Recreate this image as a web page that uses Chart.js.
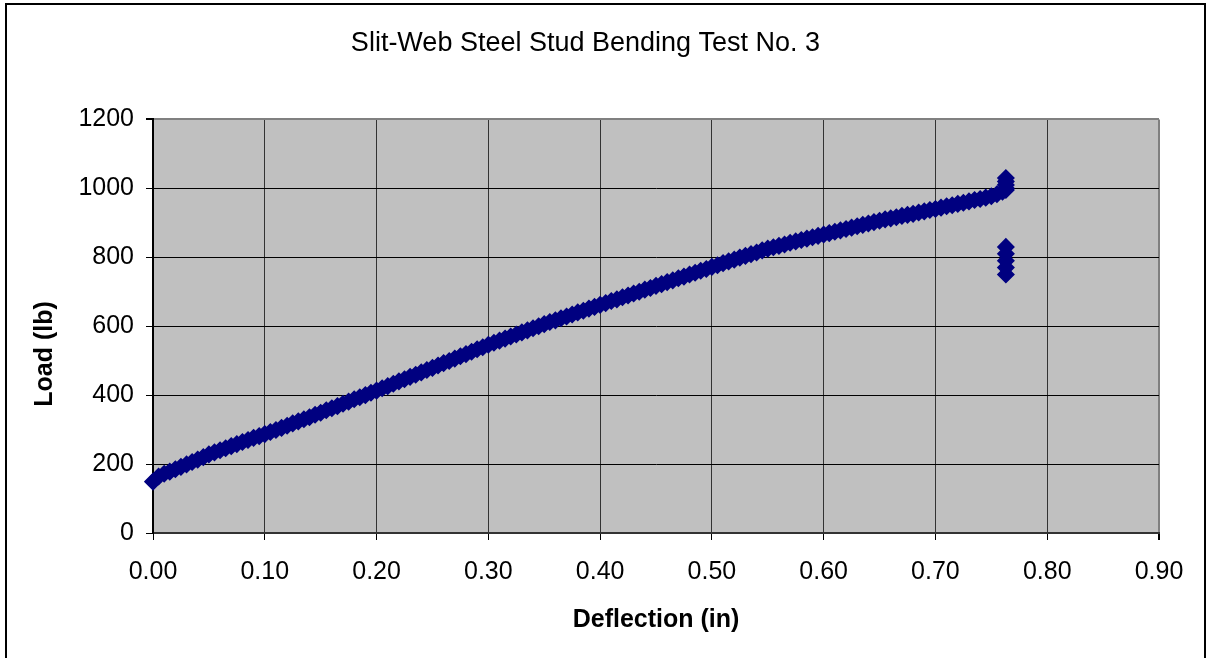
<!DOCTYPE html>
<html>
<head>
<meta charset="utf-8">
<title>Slit-Web Steel Stud Bending Test No. 3</title>
<script src="https://cdn.jsdelivr.net/npm/chart.js@4/dist/chart.umd.min.js"></script>
<style>
  html, body { margin: 0; padding: 0; background: #fff; }
  canvas { display: block; }
</style>
</head>
<body>
<canvas id="chartCanvas" width="1209" height="658"></canvas>
<script>
// --- data ---
const chartTitle = "Slit-Web Steel Stud Bending Test No. 3";
const xTitle = "Deflection (in)";
const yTitle = "Load (lb)";

// main loading curve: deflection (in) / load (lb)
const deflection = [
  0.000, 0.005, 0.010, 0.015, 0.020, 0.025, 0.030, 0.035, 0.040, 0.045,
  0.050, 0.055, 0.060, 0.065, 0.070, 0.075, 0.080, 0.085, 0.090, 0.095,
  0.100, 0.105, 0.110, 0.115, 0.120, 0.125, 0.130, 0.135, 0.140, 0.145,
  0.150, 0.155, 0.160, 0.165, 0.170, 0.175, 0.180, 0.185, 0.190, 0.195,
  0.200, 0.205, 0.210, 0.215, 0.220, 0.225, 0.230, 0.235, 0.240, 0.245,
  0.250, 0.255, 0.260, 0.265, 0.270, 0.275, 0.280, 0.285, 0.290, 0.295,
  0.300, 0.305, 0.310, 0.315, 0.320, 0.325, 0.330, 0.335, 0.340, 0.345,
  0.350, 0.355, 0.360, 0.365, 0.370, 0.375, 0.380, 0.385, 0.390, 0.395,
  0.400, 0.405, 0.410, 0.415, 0.420, 0.425, 0.430, 0.435, 0.440, 0.445,
  0.450, 0.455, 0.460, 0.465, 0.470, 0.475, 0.480, 0.485, 0.490, 0.495,
  0.500, 0.505, 0.510, 0.515, 0.520, 0.525, 0.530, 0.535, 0.540, 0.545,
  0.550, 0.555, 0.560, 0.565, 0.570, 0.575, 0.580, 0.585, 0.590, 0.595,
  0.600, 0.605, 0.610, 0.615, 0.620, 0.625, 0.630, 0.635, 0.640, 0.645,
  0.650, 0.655, 0.660, 0.665, 0.670, 0.675, 0.680, 0.685, 0.690, 0.695,
  0.700, 0.705, 0.710, 0.715, 0.720, 0.725, 0.730, 0.735, 0.740, 0.745,
  0.750, 0.755, 0.760
];
const load = [
  149, 164, 172, 178, 185, 192, 199, 206, 213, 220,
  228, 234, 240, 246, 252, 258, 264, 270, 276, 281,
  287, 293, 299, 305, 311, 318, 324, 330, 336, 343,
  349, 356, 362, 368, 375, 381, 388, 394, 400, 407,
  413, 420, 426, 433, 440, 446, 453, 459, 466, 473,
  479, 486, 493, 499, 506, 513, 519, 526, 533, 539,
  546, 552, 558, 564, 570, 576, 582, 588, 594, 600,
  606, 612, 617, 623, 628, 634, 640, 645, 651, 656,
  662, 667, 673, 678, 684, 689, 695, 700, 706, 711,
  717, 722, 728, 733, 739, 744, 750, 755, 761, 766,
  772, 777, 783, 788, 793, 799, 804, 809, 814, 820,
  825, 829, 833, 837, 842, 846, 850, 854, 858, 862,
  866, 870, 874, 878, 882, 886, 890, 894, 898, 902,
  906, 910, 913, 916, 920, 923, 926, 930, 933, 937,
  940, 944, 948, 951, 955, 958, 962, 966, 969, 973,
  977, 983, 990
];

// failure readings stacked at the last deflection
const failDeflection = [0.763, 0.763, 0.763, 0.763, 0.763, 0.763, 0.763, 0.763, 0.763, 0.763];
const failLoad = [1000, 1010, 1020, 1030, 830, 810, 790, 770, 750, 995];

// axis ticks
const xMin = 0, xMax = 0.9, xStep = 0.1;
const yMin = 0, yMax = 1200, yStep = 200;

const points = deflection.map((d, i) => ({ x: d, y: load[i] }))
  .concat(failDeflection.map((d, i) => ({ x: d, y: failLoad[i] })));

const font = "Arial, 'Liberation Sans', Helvetica, sans-serif";

// --- plugins: grey plot area, y title, outer frame ---
const plotBackground = {
  id: "plotBackground",
  beforeDraw(chart) {
    const { ctx, chartArea: a } = chart;
    ctx.save();
    ctx.fillStyle = "#c0c0c0";
    ctx.fillRect(a.left, a.top, a.right - a.left, a.bottom - a.top);
    ctx.restore();
  }
};

const frameAndYTitle = {
  id: "frameAndYTitle",
  afterDraw(chart) {
    const { ctx } = chart;
    ctx.save();
    // y axis title, sits a bit below the plot middle like the original
    ctx.translate(45, 354);
    ctx.rotate(-Math.PI / 2);
    ctx.fillStyle = "#000";
    ctx.font = "bold 25px " + font;
    ctx.textAlign = "center";
    ctx.textBaseline = "middle";
    ctx.fillText(yTitle, 0, 0);
    ctx.restore();

    ctx.save();
    ctx.strokeStyle = "#000";
    ctx.lineWidth = 2;
    ctx.strokeRect(6, 4, 1199, 700);
    ctx.restore();
  }
};

new Chart(document.getElementById("chartCanvas"), {
  type: "scatter",
  data: {
    datasets: [{
      label: "Test 3",
      data: points,
      pointStyle: "rectRot",
      pointRadius: 8,
      borderWidth: 1.5,
      backgroundColor: "#000080",
      borderColor: "#000080",
      showLine: false,
      clip: false
    }]
  },
  options: {
    responsive: false,
    animation: false,
    events: [],
    layout: { padding: { left: 12, right: 50, top: 0, bottom: 0 } },
    plugins: {
      legend: { display: false },
      tooltip: { enabled: false },
      title: {
        display: true,
        text: chartTitle,
        color: "#000",
        font: { family: font, size: 27, weight: "normal", lineHeight: 1.2 },
        padding: { top: 27, bottom: 60 }
      }
    },
    scales: {
      x: {
        type: "linear",
        min: xMin,
        max: xMax,
        afterFit(scale) { scale.height = 125; },
        ticks: {
          stepSize: xStep,
          color: "#000",
          font: { family: font, size: 25 },
          padding: 17,
          maxRotation: 0,
          callback: v => Number(v).toFixed(2)
        },
        grid: {
          color: ctx => (ctx.tick && Math.abs(ctx.tick.value - xMax) < 1e-6) ? "#808080" : "#333",
          lineWidth: ctx => (ctx.tick && Math.abs(ctx.tick.value - xMax) < 1e-6) ? 2 : 1,
          tickColor: "#000",
          tickLength: 7
        },
        border: { color: "#333", width: 2 },
        title: {
          display: true,
          text: xTitle,
          color: "#000",
          font: { family: font, size: 25, weight: "bold", lineHeight: 1.2 },
          padding: { top: 23, bottom: 23 }
        }
      },
      y: {
        type: "linear",
        min: yMin,
        max: yMax,
        afterFit(scale) { scale.width = 141; },
        ticks: {
          stepSize: yStep,
          color: "#000",
          font: { family: font, size: 25 },
          padding: 12,
          callback: v => String(v)
        },
        grid: {
          color: ctx => (ctx.tick && ctx.tick.value === yMax) ? "#808080" : "#000",
          lineWidth: ctx => (ctx.tick && ctx.tick.value === yMax) ? 2 : 1,
          tickColor: "#000",
          tickLength: 7
        },
        border: { color: "#000", width: 2 },
        title: { display: false }
      }
    }
  },
  plugins: [plotBackground, frameAndYTitle]
});
</script>
</body>
</html>
